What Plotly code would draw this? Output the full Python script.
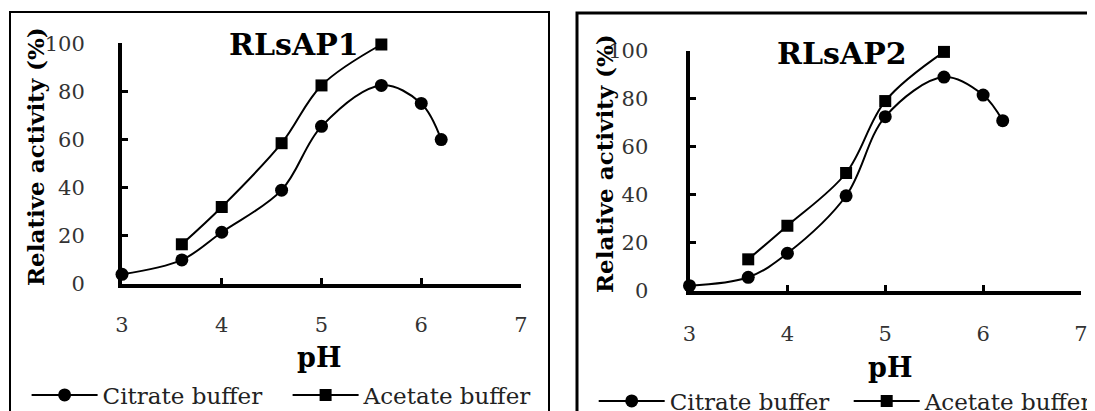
import plotly.graph_objects as go

# ---------------- data ----------------
ph_citrate = [3.0, 3.6, 4.0, 4.6, 5.0, 5.6, 6.0, 6.2]
ph_acetate = [3.6, 4.0, 4.6, 5.0, 5.6]

rlsap1_citrate = [4, 10, 21.5, 39, 65.5, 82.5, 75, 60]
rlsap1_acetate = [16.5, 32, 58.5, 82.5, 99.5]

rlsap2_citrate = [2, 5.5, 15.5, 39.5, 72.5, 89, 81.5, 70.8]
rlsap2_acetate = [13, 27, 49, 79, 99.5]

panel_titles = ["RLsAP1", "RLsAP2"]
series_names = ["Citrate buffer", "Acetate buffer"]
x_ticks = [3, 4, 5, 6, 7]
y_ticks = [0, 20, 40, 60, 80, 100]

W, H = 1095, 411
OFF = 8  # page body margin offset
SERIF = "DejaVu Serif"

fig = go.Figure()

def px_x(p):
    return (p - OFF) / W

def px_y(p):
    return (H - (p - OFF)) / H

panels = [
    dict(xa="x", ya="y", xaxis="xaxis", yaxis="yaxis", legend="legend",
         cit=rlsap1_citrate, ace=rlsap1_acetate, xstand=19, ystand=29,
         xdom=[px_x(122), px_x(521)], ydom=[px_y(284), px_y(43.3)]),
    dict(xa="x2", ya="y2", xaxis="xaxis2", yaxis="yaxis2", legend="legend2",
         cit=rlsap2_citrate, ace=rlsap2_acetate, xstand=21, ystand=33,
         xdom=[px_x(689.5), px_x(1081)], ydom=[px_y(290.5), px_y(50.7)]),
]

for p in panels:
    fig.add_trace(go.Scatter(
        x=ph_citrate, y=p["cit"], name=series_names[0],
        xaxis=p["xa"], yaxis=p["ya"], legend=p["legend"],
        mode="lines+markers", cliponaxis=False,
        line=dict(color="black", width=2, shape="spline", smoothing=1),
        marker=dict(symbol="circle", size=13, color="black"),
    ))
    fig.add_trace(go.Scatter(
        x=ph_acetate, y=p["ace"], name=series_names[1],
        xaxis=p["xa"], yaxis=p["ya"], legend=p["legend"],
        mode="lines+markers", cliponaxis=False,
        line=dict(color="black", width=2, shape="spline", smoothing=1),
        marker=dict(symbol="square", size=12, color="black"),
    ))

axis_common = dict(
    showgrid=False, zeroline=False, showline=True, linecolor="black", linewidth=4,
    ticks="inside", ticklen=6, tickwidth=3, tickcolor="black",
    tickfont=dict(family=SERIF, size=21, color="#333"),
)

layout = dict(
    width=W, height=H,
    margin=dict(l=0, r=0, t=0, b=0, autoexpand=False),
    paper_bgcolor="white", plot_bgcolor="white",
    showlegend=True,
)

for i, p in enumerate(panels):
    layout[p["xaxis"]] = dict(
        domain=p["xdom"], range=[3, 7], tickvals=x_ticks,
        anchor=p["ya"], ticklabelstandoff=p["xstand"], **axis_common)
    layout[p["yaxis"]] = dict(
        domain=p["ydom"], range=[0, 100], tickvals=y_ticks,
        anchor=p["xa"], ticklabelstandoff=p["ystand"], **axis_common)

legend_common = dict(
    orientation="h", xanchor="left", yanchor="middle",
    font=dict(family=SERIF, size=23, color="#222"), bgcolor="rgba(0,0,0,0)",
    traceorder="normal", itemclick=False, itemwidth=66,
)
layout["legend"] = dict(x=px_x(26.6), y=px_y(395), entrywidth=180, **legend_common)
layout["legend2"] = dict(x=px_x(593.7), y=px_y(401), entrywidth=174, **legend_common)

fig.update_layout(**layout)

# panel frames
fig.add_shape(type="rect", xref="paper", yref="paper",
              x0=px_x(10), x1=px_x(549), y0=px_y(430), y1=px_y(12),
              line=dict(color="black", width=2), layer="below")
fig.add_shape(type="rect", xref="paper", yref="paper",
              x0=px_x(577), x1=px_x(1120), y0=px_y(430), y1=px_y(13),
              line=dict(color="black", width=3), layer="below")

# text annotations
ann = [
    dict(text="<b>%s</b>" % panel_titles[0], x=px_x(293.5), y=px_y(44), size=30),
    dict(text="<b>%s</b>" % panel_titles[1], x=px_x(841.5), y=px_y(54), size=30),
    dict(text="<b>pH</b>", x=px_x(319), y=px_y(357), size=27),
    dict(text="<b>pH</b>", x=px_x(890), y=px_y(367), size=27),
]
for a in ann:
    fig.add_annotation(text=a["text"], x=a["x"], y=a["y"], xref="paper", yref="paper",
                       showarrow=False, xanchor="center", yanchor="middle",
                       font=dict(family=SERIF, size=a["size"], color="black"))
for xc, yc in ((35, 157), (604, 163)):
    fig.add_annotation(text="<b>Relative activity (%)</b>", x=px_x(xc), y=px_y(yc),
                       xref="paper", yref="paper", showarrow=False, textangle=-90,
                       xanchor="center", yanchor="middle",
                       font=dict(family=SERIF, size=23, color="black"))

fig.write_html("out.html")
